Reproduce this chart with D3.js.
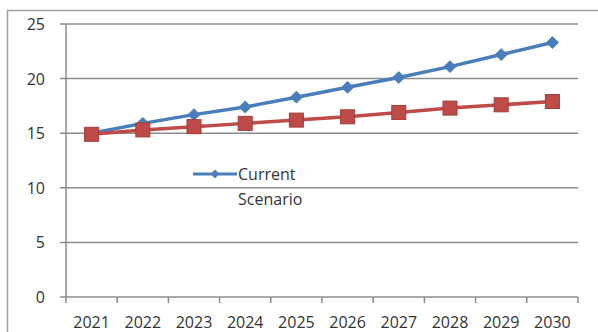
<!DOCTYPE html>
<html>
<head>
<meta charset="utf-8">
<script src="https://cdn.jsdelivr.net/npm/d3@7"></script>
<style>
  body { margin: 0; background: #fff; }
  text { font-family: "Open Sans", sans-serif; fill: #333; }
</style>
</head>
<body>
<div id="container"></div>
<script>
let w = 598;
let h = 332;

// data
let years = ["2021", "2022", "2023", "2024", "2025", "2026", "2027", "2028", "2029", "2030"];
let current = [15, 15.9, 16.7, 17.4, 18.3, 19.2, 20.1, 21.1, 22.2, 23.3];
let scenario = [14.9, 15.3, 15.6, 15.9, 16.2, 16.5, 16.9, 17.3, 17.6, 17.9];
let yTicks = [0, 5, 10, 15, 20, 25];

let blue = "#4a7ebb";
let red = "#be4b48";
let grid = "#8c8c8c";

let viz = d3.select("#container").append("svg")
  .attr("width", w)
  .attr("height", h)
  .style("display", "block");

// outer chart border
viz.append("path")
  .attr("d", "M7.5," + h + "V10.5H" + w)
  .attr("fill", "none")
  .attr("stroke", "#a0a0a0")
  .attr("stroke-width", 1.5);

let plotL = 66, plotR = 578, plotT = 24, plotB = 297;

let x = d3.scaleBand().domain(years).range([plotL, plotR]);
let y = d3.scaleLinear().domain([0, 25]).range([plotB, plotT]);

// gridlines + y labels
viz.selectAll(".grid").data(yTicks).enter()
  .append("line")
  .attr("class", "grid")
  .attr("x1", plotL - 6)
  .attr("x2", plotR)
  .attr("y1", function(d) { return y(d); })
  .attr("y2", function(d) { return y(d); })
  .attr("stroke", grid)
  .attr("stroke-width", 1.5);

viz.selectAll(".ylab").data(yTicks).enter()
  .append("text")
  .attr("class", "ylab")
  .attr("x", 45)
  .attr("y", function(d) { return y(d) + 6; })
  .attr("text-anchor", "end")
  .style("font-size", "16px")
  .text(function(d) { return d; });

// y axis line
viz.append("line")
  .attr("x1", plotL).attr("x2", plotL)
  .attr("y1", plotT).attr("y2", plotB)
  .attr("stroke", grid)
  .attr("stroke-width", 1.5);

// x axis tick marks at band edges
let edges = years.map(function(d) { return x(d); }).concat([plotR]);
viz.selectAll(".xtick").data(edges).enter()
  .append("line")
  .attr("class", "xtick")
  .attr("x1", function(d) { return d; })
  .attr("x2", function(d) { return d; })
  .attr("y1", plotB)
  .attr("y2", plotB + 6)
  .attr("stroke", grid)
  .attr("stroke-width", 1.5);

viz.selectAll(".xlab").data(years).enter()
  .append("text")
  .attr("class", "xlab")
  .attr("x", function(d) { return x(d) + x.bandwidth() / 2; })
  .attr("y", 328)
  .attr("text-anchor", "middle")
  .style("font-size", "16px")
  .text(function(d) { return d; });

let lineMaker = d3.line()
  .x(function(d, i) { return x(years[i]) + x.bandwidth() / 2; })
  .y(function(d) { return y(d); });

// current series
viz.append("path")
  .attr("d", lineMaker(current))
  .attr("fill", "none")
  .attr("stroke", blue)
  .attr("stroke-width", 3.5);

let diamond = d3.symbol().type(d3.symbolDiamond2).size(90);
viz.selectAll(".dia").data(current).enter()
  .append("path")
  .attr("class", "dia")
  .attr("d", diamond)
  .attr("transform", function(d, i) {
    return "translate(" + (x(years[i]) + x.bandwidth() / 2) + "," + y(d) + ")";
  })
  .attr("fill", blue)
  .attr("stroke", blue);

// scenario series
viz.append("path")
  .attr("d", lineMaker(scenario))
  .attr("fill", "none")
  .attr("stroke", red)
  .attr("stroke-width", 3.5);

viz.selectAll(".sq").data(scenario).enter()
  .append("rect")
  .attr("class", "sq")
  .attr("x", function(d, i) { return x(years[i]) + x.bandwidth() / 2 - 7; })
  .attr("y", function(d) { return y(d) - 7; })
  .attr("width", 14)
  .attr("height", 14)
  .attr("fill", red)
  .attr("stroke", "#a33c3a");

// legend (only first entry visible)
viz.append("line")
  .attr("x1", 193).attr("x2", 237)
  .attr("y1", 174).attr("y2", 174)
  .attr("stroke", blue)
  .attr("stroke-width", 3);
viz.append("path")
  .attr("d", d3.symbol().type(d3.symbolDiamond2).size(50))
  .attr("transform", "translate(215,174)")
  .attr("fill", blue);
viz.append("text")
  .attr("x", 238).attr("y", 180)
  .style("font-size", "16px")
  .text("Current");
viz.append("text")
  .attr("x", 238).attr("y", 205)
  .style("font-size", "16px")
  .text("Scenario");
</script>
</body>
</html>
